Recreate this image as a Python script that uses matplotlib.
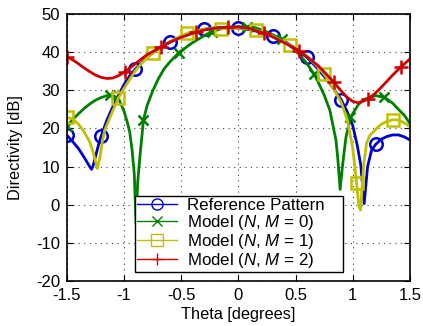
import numpy as np
import matplotlib
matplotlib.use("Agg")
import matplotlib.pyplot as plt
from matplotlib.lines import Line2D

plt.rcParams['font.family'] = ['Liberation Sans', 'DejaVu Sans']
plt.rcParams['mathtext.fontset'] = 'custom'
plt.rcParams['mathtext.rm'] = 'Liberation Sans'
plt.rcParams['mathtext.it'] = 'Liberation Sans:italic'

# Reference pattern
ref_x = [-1.5, -1.45, -1.4, -1.35, -1.32, -1.3, -1.284, -1.27, -1.25, -1.22, -1.2, -1.15, -1.1, -1.05,
         -1.0, -0.95, -0.9, -0.8, -0.7, -0.6, -0.5, -0.4, -0.3, -0.2, -0.1, 0, 0.1, 0.2, 0.3, 0.4, 0.5,
         0.6, 0.7, 0.8, 0.9, 0.95, 1.0, 1.04, 1.07, 1.1, 1.13, 1.165, 1.2, 1.25, 1.3, 1.35, 1.4, 1.45, 1.5]
ref_y = [18.2, 16.6, 14.8, 12.5, 11.0, 10.0, 9.3, 10.2, 12.6, 16.0, 18.0, 22.2, 25.5, 28.5,
         31.5, 33.8, 35.6, 38.6, 40.9, 42.6, 44.0, 45.2, 46.0, 46.4, 46.5, 46.3, 45.9, 45.2, 44.2, 42.9, 41.0,
         38.6, 35.5, 31.8, 27.5, 24.5, 20.8, 15.5, 10.5, 0.3, 10.0, 14.3, 15.8, 17.2, 17.9, 18.3, 18.3, 17.8, 17.0]
ref_mk = [-1.5, -1.2, -0.9, -0.6, -0.3, 0, 0.3, 0.6, 0.9, 1.2]

# Model N,M = 0
m0_x = [-1.5, -1.45, -1.4, -1.35, -1.3, -1.25, -1.2, -1.15, -1.124, -1.1, -1.05, -1.0, -0.97, -0.95,
        -0.93, -0.91, -0.895, -0.88, -0.86, -0.845, -0.83, -0.8, -0.75, -0.7, -0.65, -0.6, -0.52, -0.4,
        -0.3, -0.234, -0.15, -0.05, 0.072, 0.15, 0.25, 0.378, 0.5, 0.6, 0.663, 0.7, 0.75, 0.8, 0.853,
        0.87, 0.89, 0.91, 0.94, 0.98, 1.05, 1.1, 1.2, 1.275, 1.35, 1.4, 1.45, 1.5]
m0_y = [20.6, 22.3, 23.8, 25.2, 26.4, 27.4, 28.1, 28.6, 28.7, 28.6, 28.0, 24.5, 21.5, 19.0,
        14.5, 8.0, -5.0, 6.0, 13.0, 17.5, 22.2, 25.8, 29.8, 33.0, 35.6, 37.4, 39.9, 42.5,
        44.3, 45.4, 46.1, 46.6, 46.7, 46.4, 45.3, 43.4, 40.5, 37.0, 34.2, 32.0, 28.8, 24.8, 17.0,
        12.0, 4.0, 10.0, 17.5, 22.9, 26.3, 27.6, 28.6, 28.2, 26.6, 25.0, 23.5, 21.3]
m0_mk = [-1.5, -1.124, -0.83, -0.52, -0.234, 0.072, 0.378, 0.663, 0.98, 1.275]

# Model N,M = 1
m1_x = [-1.5, -1.45, -1.4, -1.35, -1.3, -1.27, -1.25, -1.232, -1.21, -1.19, -1.168, -1.1, -1.05, -1.0,
        -0.9, -0.8, -0.75, -0.7, -0.6, -0.5, -0.45, -0.4, -0.3, -0.2, -0.15, -0.1, 0, 0.1, 0.15, 0.2,
        0.3, 0.4, 0.45, 0.5, 0.6, 0.7, 0.75, 0.8, 0.85, 0.9, 0.95, 1.0, 1.034, 1.055, 1.069, 1.085,
        1.1, 1.121, 1.15, 1.209, 1.25, 1.296, 1.355, 1.4, 1.45, 1.5]
m1_y = [22.9, 22.5, 21.2, 19.2, 16.5, 13.8, 11.5, 9.5, 12.5, 16.5, 19.6, 24.5, 27.9, 30.5,
        35.2, 38.6, 39.7, 40.9, 42.8, 44.3, 44.9, 45.4, 46.0, 46.3, 46.2, 46.2, 46.3, 46.1, 45.8, 45.4,
        44.2, 42.6, 41.9, 41.0, 38.9, 36.0, 34.2, 32.0, 29.5, 26.8, 22.5, 15.0, 5.6, -0.5, -1.4, 6.0,
        11.5, 16.1, 18.2, 20.0, 21.1, 21.8, 22.3, 22.2, 21.5, 20.5]
m1_mk = [-1.5, -1.05, -0.75, -0.45, -0.15, 0.15, 0.45, 0.75, 1.034, 1.355]

# Model N,M = 2
m2_x = [-1.5, -1.45, -1.4, -1.35, -1.3, -1.25, -1.2, -1.15, -1.1, -1.05, -0.99, -0.95, -0.9, -0.8,
        -0.68, -0.6, -0.5, -0.374, -0.3, -0.2, -0.092, 0, 0.1, 0.22, 0.3, 0.4, 0.53, 0.6, 0.7, 0.833,
        0.9, 0.95, 1.0, 1.05, 1.13, 1.2, 1.25, 1.3, 1.35, 1.424, 1.5]
m2_y = [38.8, 38.0, 37.0, 35.9, 34.9, 34.0, 33.4, 33.1, 33.2, 33.8, 34.9, 35.8, 37.0, 39.3,
        41.3, 42.6, 43.9, 45.2, 45.8, 46.3, 46.6, 46.6, 46.2, 45.0, 44.0, 42.5, 40.4, 38.8, 36.4, 32.2,
        29.8, 28.2, 27.1, 26.7, 27.6, 29.3, 30.8, 32.4, 34.0, 36.2, 38.2]
m2_mk = [-1.5, -0.99, -0.68, -0.374, -0.092, 0.22, 0.53, 0.833, 1.13, 1.424]

labels = ['Reference Pattern', 'Model ($N$, $M$ = 0)', 'Model ($N$, $M$ = 1)', 'Model ($N$, $M$ = 2)']
xticks = [-1.5, -1, -0.5, 0, 0.5, 1, 1.5]
xtick_labels = ['-1.5', '-1', '-0.5', '0', '0.5', '1', '1.5']
yticks = [-20, -10, 0, 10, 20, 30, 40, 50]
ytick_labels = ['-20', '-10', '0', '10', '20', '30', '40', '50']

series = [
    (ref_x, ref_y, ref_mk, '#0000cc', 'o', 9),
    (m0_x, m0_y, m0_mk, '#008000', 'x', 7.5),
    (m1_x, m1_y, m1_mk, '#c0c000', 's', 9),
    (m2_x, m2_y, m2_mk, '#cc0000', '+', 10),
]

fig = plt.figure(figsize=(4.23, 3.26), dpi=100)
ax = fig.add_axes([0.158, 0.138, 0.811, 0.819])

handles = []
for (x, y, mk, c, m, ms), lab in zip(series, labels):
    x = np.array(x)
    idx = [int(np.argmin(np.abs(x - v))) for v in mk]
    ax.plot(x, y, color=c, lw=2.0, marker=m, ms=ms, mew=1.8, mfc='none', markevery=idx)
    handles.append(Line2D([], [], color=c, lw=1.0, marker=m, ms=ms - 1, mew=1.0, mfc='none'))

ax.set_xlim(-1.5, 1.5)
ax.set_ylim(-20, 50)
ax.set_xticks(xticks)
ax.set_xticklabels(xtick_labels)
ax.set_yticks(yticks)
ax.set_yticklabels(ytick_labels)
ax.tick_params(direction='in', labelsize=12, length=4, pad=5, top=True, right=True)
ax.grid(True, color='#444444', linestyle=(0, (1, 4)), lw=0.8)
for s in ax.spines.values():
    s.set_linewidth(1.2)

ax.set_xlabel('Theta [degrees]', fontsize=11.8, labelpad=3)
ax.set_ylabel('Directivity [dB]', fontsize=11.8, labelpad=9)

leg = ax.legend(handles, labels, loc='lower left', bbox_to_anchor=(0.198, 0.034, 0.606, 0.3),
                mode='expand', borderaxespad=0, fontsize=12.2, handlelength=2.4, handletextpad=0.55,
                labelspacing=0.0, borderpad=0.12, fancybox=False, framealpha=1, numpoints=1)
leg.get_frame().set_edgecolor('black')
leg.get_frame().set_linewidth(1.0)

fig.savefig('out.png', dpi=100)
